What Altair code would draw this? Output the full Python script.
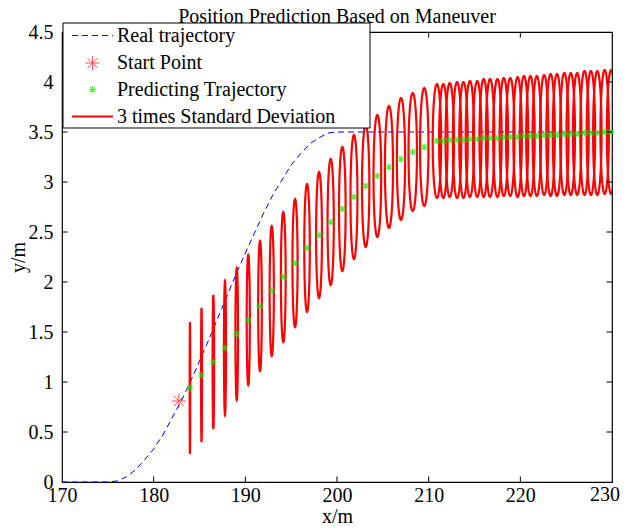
import altair as alt
import pandas as pd
import numpy as np

# ---------------- data ----------------
real_x = [170, 172, 174, 175, 176, 177, 178, 179, 180, 181, 182, 183, 184, 185,
          186, 187, 188, 189, 190, 191, 192, 193, 194, 195, 196, 197, 198, 199,
          200, 210, 220, 230]
real_y = [0, 0, 0, 0, 0.01, 0.05, 0.12, 0.22, 0.33, 0.47, 0.64, 0.81, 1.00, 1.21,
          1.42, 1.64, 1.86, 2.08, 2.29, 2.49, 2.69, 2.87, 3.02, 3.17, 3.28, 3.38, 3.44, 3.49,
          3.5, 3.5, 3.5, 3.5]

start_x = [182.75]
start_y = [0.81]

pred_x = [183.96, 185.22, 186.51, 187.78, 189.06, 190.32, 191.60, 192.88, 194.14, 195.42,
          196.73, 198.04, 199.31, 200.58, 201.85, 203.13, 204.40, 205.67, 206.98, 208.26,
          209.52,
          210.9, 211.6, 212.3, 213.1, 213.8, 214.5, 215.3, 216.0, 216.7, 217.5, 218.2, 218.9,
          219.7, 220.4, 221.1, 221.8, 222.6, 223.3, 224.0, 224.8, 225.5, 226.2, 227.0, 227.7,
          228.4, 229.2, 229.9]
pred_y = [0.94, 1.07, 1.20, 1.34, 1.48, 1.62, 1.76, 1.91, 2.05, 2.19,
          2.34, 2.47, 2.60, 2.73, 2.85, 2.96, 3.06, 3.15, 3.23, 3.30,
          3.35,
          3.41, 3.41, 3.42, 3.42, 3.42, 3.43, 3.43, 3.44, 3.44, 3.44, 3.45, 3.45,
          3.45, 3.46, 3.46, 3.46, 3.47, 3.47, 3.47, 3.48, 3.48, 3.48, 3.49, 3.49,
          3.49, 3.50, 3.50]
# 3-sigma half axes of each ellipse (x half width, y half height)
dev_x = [0.03, 0.05, 0.08, 0.11, 0.14, 0.17, 0.20, 0.23, 0.26, 0.28,
         0.30, 0.32, 0.34, 0.36, 0.38, 0.40, 0.42, 0.44, 0.45, 0.46,
         0.46,
         0.46, 0.46, 0.46, 0.46, 0.46, 0.46, 0.46, 0.46, 0.46, 0.46, 0.46, 0.46,
         0.46, 0.46, 0.46, 0.46, 0.46, 0.46, 0.46, 0.46, 0.46, 0.46, 0.46, 0.46,
         0.46, 0.46, 0.46]
dev_y = [0.66, 0.67, 0.67, 0.67, 0.66, 0.65, 0.65, 0.65, 0.65, 0.64,
         0.64, 0.63, 0.63, 0.62, 0.62, 0.61, 0.61, 0.61, 0.61, 0.59,
         0.59,
         0.57, 0.57, 0.57, 0.58, 0.58, 0.58, 0.58, 0.59, 0.59, 0.59, 0.59, 0.59,
         0.60, 0.60, 0.60, 0.60, 0.60, 0.61, 0.61, 0.61, 0.61, 0.61, 0.62, 0.62,
         0.62, 0.62, 0.62]

x_ticks = [170, 180, 190, 200, 210, 220, 230]
y_ticks = [0, 0.5, 1, 1.5, 2, 2.5, 3, 3.5, 4, 4.5]
inner_x_ticks = x_ticks[1:-1]
inner_y_ticks = y_ticks[1:-1]

legend_labels = ["Real trajectory", "Start Point", "Predicting Trajectory",
                 "3 times Standard Deviation"]

# ---------------- tables ----------------
real_df = pd.DataFrame({"x": real_x, "y": real_y, "i": range(len(real_x))})
start_df = pd.DataFrame({"x": start_x, "y": start_y})
pred_df = pd.DataFrame({"x": pred_x, "y": pred_y})

rows = []
theta = np.linspace(0, 2 * np.pi, 73)
for k, (cx, cy, a, b) in enumerate(zip(pred_x, pred_y, dev_x, dev_y)):
    for j, t in enumerate(theta):
        rows.append({"id": k, "j": j, "x": cx + a * np.cos(t), "y": cy + b * np.sin(t)})
ell_df = pd.DataFrame(rows)

W, H = 550, 450
FONT = "Liberation Serif"
FS = 20
ASTER = "M-1,0L1,0M0,-1L0,1M-0.707,-0.707L0.707,0.707M-0.707,0.707L0.707,-0.707"

xs = alt.Scale(domain=[170, 230], nice=False, zero=False)
ys = alt.Scale(domain=[0, 4.5], nice=False, zero=False)

# last x label is placed separately (flush with the page edge)
X = alt.X("x:Q", scale=xs, axis=alt.Axis(values=x_ticks[:-1], title="x/m", format="d",
                                         labelPadding=3, titlePadding=1))
Y = alt.Y("y:Q", scale=ys, axis=alt.Axis(values=y_ticks, title="y/m", format="~g",
                                         labelPadding=9, titlePadding=0))

real_line = alt.Chart(real_df).mark_line(color="#0000ff", strokeWidth=1,
                                         strokeDash=[6, 4]).encode(x=X, y=Y, order="i:Q")

ellipses = alt.Chart(ell_df).mark_line(color="#ff0000", strokeWidth=2.2, clip=True).encode(
    x=alt.X("x:Q", scale=xs), y=alt.Y("y:Q", scale=ys), detail="id:N", order="j:Q")

pred_pts = alt.Chart(pred_df).mark_point(shape=ASTER, size=49, color="#00ee00",
                                         strokeWidth=1.2, filled=False).encode(
    x=alt.X("x:Q", scale=xs), y=alt.Y("y:Q", scale=ys))

start_pt = alt.Chart(start_df).mark_point(shape=ASTER, size=200, color="#ff0000",
                                          strokeWidth=1, filled=False).encode(
    x=alt.X("x:Q", scale=xs), y=alt.Y("y:Q", scale=ys))

TL = 5.5
xt_df = pd.DataFrame({"x": inner_x_ticks})
yt_df = pd.DataFrame({"y": inner_y_ticks})
tick_b = alt.Chart(xt_df).mark_rule(color="black", strokeWidth=1).encode(
    x=alt.X("x:Q", scale=xs), y=alt.value(H), y2=alt.value(H - TL))
tick_t = alt.Chart(xt_df).mark_rule(color="black", strokeWidth=1).encode(
    x=alt.X("x:Q", scale=xs), y=alt.value(0), y2=alt.value(TL))
tick_l = alt.Chart(yt_df).mark_rule(color="black", strokeWidth=1).encode(
    y=alt.Y("y:Q", scale=ys), x=alt.value(0), x2=alt.value(TL))
tick_r = alt.Chart(yt_df).mark_rule(color="black", strokeWidth=1).encode(
    y=alt.Y("y:Q", scale=ys), x=alt.value(W), x2=alt.value(W - TL))

one = pd.DataFrame({"a": [0]})
last_lab = alt.Chart(one).mark_text(text=str(x_ticks[-1]), font=FONT, fontSize=FS,
                                    align="right", baseline="top", color="black").encode(
    x=alt.value(W + 8), y=alt.value(H + 3))

title_txt = alt.Chart(one).mark_text(text="Position Prediction Based on Maneuver",
                                     font=FONT, fontSize=20, align="center",
                                     baseline="alphabetic", color="black").encode(
    x=alt.value(W / 2), y=alt.value(-9.5))

# legend box
LX0, LX1, LY0, LY1 = 1, 308, -9, 96
row_y = [3.5, 31, 57.5, 84.5]
leg_box = alt.Chart(one).mark_rect(fill="white", stroke="black", strokeWidth=1).encode(
    x=alt.value(LX0), x2=alt.value(LX1), y=alt.value(LY0), y2=alt.value(LY1))
leg_l1 = alt.Chart(one).mark_rule(color="#0000ff", strokeWidth=1, strokeDash=[6, 4]).encode(
    x=alt.value(10), x2=alt.value(51), y=alt.value(row_y[0]))
leg_p1 = alt.Chart(one).mark_point(shape=ASTER, size=200, color="#ff0000", strokeWidth=1,
                                   filled=False).encode(x=alt.value(30.5), y=alt.value(row_y[1]))
leg_p2 = alt.Chart(one).mark_point(shape=ASTER, size=49, color="#00ee00", strokeWidth=1.2,
                                   filled=False).encode(x=alt.value(30.5), y=alt.value(row_y[2]))
leg_l2 = alt.Chart(one).mark_rule(color="#ff0000", strokeWidth=2.2).encode(
    x=alt.value(10), x2=alt.value(51), y=alt.value(row_y[3]))
leg_texts = [
    alt.Chart(one).mark_text(text=lab, font=FONT, fontSize=FS, align="left",
                             baseline="middle", color="black").encode(
        x=alt.value(55), y=alt.value(ry))
    for lab, ry in zip(legend_labels, row_y)
]

chart = alt.layer(
    real_line, ellipses, pred_pts, start_pt,
    tick_b, tick_t, tick_l, tick_r, last_lab,
    leg_box, title_txt, leg_l1, leg_p1, leg_p2, leg_l2, *leg_texts
).properties(
    width=W, height=H,
    background="white",
    autosize=alt.AutoSizeParams(type="none"),
    padding={"left": 54, "top": 24, "right": 8, "bottom": 46},
).configure_view(
    stroke="black", strokeWidth=1.2
).configure_axis(
    labelFont=FONT, labelFontSize=FS, labelColor="black",
    titleFont=FONT, titleFontSize=FS, titleFontWeight="normal", titleColor="black",
    grid=False, ticks=False, domain=False, labelFlush=False,
)

chart.save("out.html", embed_options={"renderer": "svg", "actions": False})
